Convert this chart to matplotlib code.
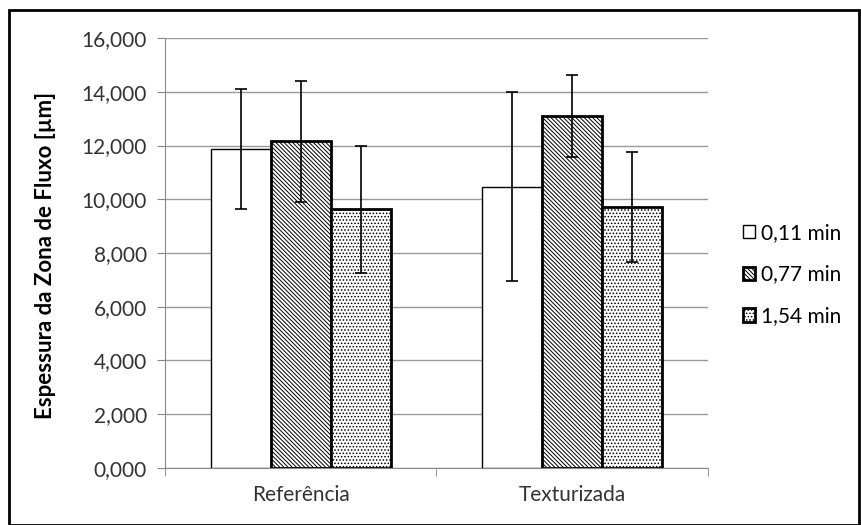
import matplotlib.pyplot as plt
import matplotlib.patches as mpatches
import numpy as np

categories = ['Referência', 'Texturizada']
series = ['0,11 min', '0,77 min', '1,54 min']
means = [
    [11.87, 10.46],   # 0,11 min
    [12.16, 13.10],   # 0,77 min
    [9.62, 9.72],     # 1,54 min
]
errors = [
    [2.25, 3.52],
    [2.25, 1.53],
    [2.35, 2.05],
]
yticks = [0, 2, 4, 6, 8, 10, 12, 14, 16]

plt.rcParams['font.family'] = ['Lato', 'DejaVu Sans']
plt.rcParams['hatch.linewidth'] = 0.7

fig = plt.figure(figsize=(8.62, 5.25), dpi=100)
ax = fig.add_axes([0.1914, 0.1086, 0.8213 - 0.1914, 0.9276 - 0.1086])

hatches = [None, '\\' * 8, '.' * 5]
edge_w = [1.0, 2.0, 2.0]
bar_w = 0.221
x = np.arange(len(categories))
for i, name in enumerate(series):
    pos = x + (i - 1) * bar_w
    ax.bar(pos, means[i], bar_w, color='white', edgecolor='black',
           linewidth=edge_w[i], hatch=hatches[i], label=name, zorder=2)
    ax.errorbar(pos, means[i], yerr=errors[i], fmt='none', ecolor='black',
                elinewidth=1.2, capsize=4.5, capthick=1.2, zorder=3)

ax.set_xlim(-0.5, 1.5)
ax.set_ylim(0, 16)
ax.set_yticks(yticks)
ax.set_yticklabels([f'{v:.3f}'.replace('.', ',') for v in yticks], fontsize=15, color='#333333')
ax.set_xticks(x)
ax.set_xticklabels(categories, fontsize=15, color='#333333')
ax.set_xticks([-0.5, 0.5, 1.5], minor=True)
ax.tick_params(axis='x', which='major', length=0, pad=12)
ax.tick_params(axis='x', which='minor', length=6, color='#888888')
ax.tick_params(axis='y', length=6, color='#888888', pad=7)
ax.grid(axis='y', color='#999999', linewidth=1.0, zorder=0)
ax.set_axisbelow(True)
for s in ['top', 'right']:
    ax.spines[s].set_visible(False)
for s in ['left', 'bottom']:
    ax.spines[s].set_color('#888888')

ax.set_ylabel('Espessura da Zona de Fluxo [µm]', fontsize=16, fontweight='bold')
ax.yaxis.set_label_coords(-0.20, 0.495)

ax.legend(loc='center left', bbox_to_anchor=(1.03, 0.45), frameon=False, fontsize=15,
          handlelength=0.6, handleheight=0.6, handletextpad=0.25, labelspacing=1.05)

fig.patches.append(mpatches.Rectangle((0.011, 0.0), 0.985, 0.981, transform=fig.transFigure,
                                      fill=False, edgecolor='black', linewidth=2))

fig.savefig('out.png', dpi=100)
